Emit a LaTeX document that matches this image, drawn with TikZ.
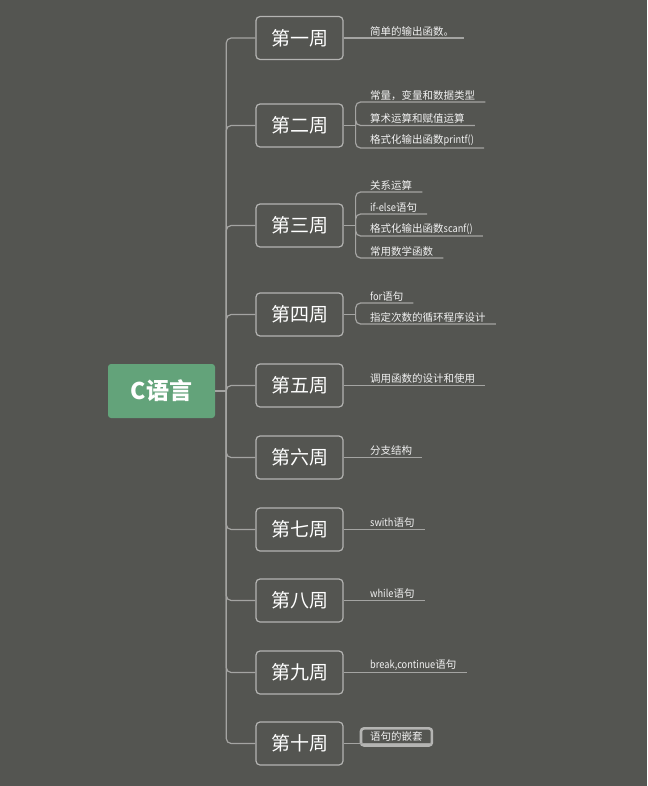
\documentclass[tikz,border=0pt]{standalone}
\usepackage{fontspec}
\setmainfont{Noto Sans CJK SC}
\newfontfamily\lat[FakeStretch=0.88]{Noto Sans CJK SC}
\usetikzlibrary{fit}
\definecolor{bgcol}{HTML}{545551}
\definecolor{rootcol}{HTML}{63A37A}
\definecolor{boxcol}{HTML}{B4B4B2}
\definecolor{linecol}{HTML}{A4A4A2}
\definecolor{leafcol}{HTML}{F2F2F2}

\begin{document}
\begin{tikzpicture}[x=1pt, y=-1pt,
link/.style ={draw=linecol, line width=1.2pt, rounded corners=5pt},
root/.style ={fill=rootcol, rounded corners=3pt, minimum width=107pt,
  minimum height=54pt, text=white, font=\fontsize{23}{23}\selectfont\bfseries},
week/.style ={draw=boxcol, fill=bgcol, rounded corners=4pt, line width=1.2pt,
  minimum width=87pt, minimum height=43pt, inner sep=0pt, text=white,
  font=\fontsize{19}{19}\selectfont},
leaf/.style ={anchor=south west, inner xsep=10pt, inner ysep=1.5pt,
  text=leafcol, font=\fontsize{10.5}{12}\selectfont},
selbox/.style ={draw=boxcol, line width=2.6pt, rounded corners=3pt,
  inner xsep=1pt, inner ysep=2pt}]
\fill[bgcol] (0,0) rectangle (647,786);
\useasboundingbox (0,0) rectangle (647,786);
% root and weeks
\node[root] (C) at (161.5,391) {C语言};
\node[week] (W1) at (299.5,38) {第一周};
\node[week] (W2) at (299.5,125.5) {第二周};
\node[week] (W3) at (299.5,225.5) {第三周};
\node[week] (W4) at (299.5,314.5) {第四周};
\node[week] (W5) at (299.5,385.5) {第五周};
\node[week] (W6) at (299.5,457.5) {第六周};
\node[week] (W7) at (299.5,529.5) {第七周};
\node[week] (W8) at (299.5,600.5) {第八周};
\node[week] (W9) at (299.5,672.5) {第九周};
\node[week] (W10) at (299.5,743.5) {第十周};
% leaves
\node[leaf] (L11) at (360,38) {简单的输出函数。};
\node[leaf] (L21) at (360,102) {常量，变量和数据类型};
\node[leaf] (L22) at (360,125.5) {算术运算和赋值运算};
\node[leaf] (L23) at (360,148) {格式化输出函数{\lat printf()}};
\node[leaf] (L31) at (360,192) {关系运算};
\node[leaf] (L32) at (360,214) {{\lat if-else}语句};
\node[leaf] (L33) at (360,236) {格式化输出函数{\lat scanf()}};
\node[leaf] (L34) at (360,258) {常用数学函数};
\node[leaf] (L41) at (360,303) {{\lat for}语句};
\node[leaf] (L42) at (360,324) {指定次数的循环程序设计};
\node[leaf] (L51) at (360,385.5) {调用函数的设计和使用};
\node[leaf] (L61) at (360,457.5) {分支结构};
\node[leaf] (L71) at (360,529.5) {{\lat swith}语句};
\node[leaf] (L81) at (360,600.5) {{\lat while}语句};
\node[leaf] (L91) at (360,672.5) {{\lat break,continue}语句};
\node[leaf, inner xsep=8pt] (L101) at (362,743.5) {语句的嵌套};
\node[selbox, fit=(L101)] (S) {};
% trunk
\draw[link] (C.east) -- ++(11,0);
\foreach \w in {W1,W2,W3,W4,W5,W6,W7,W8,W9,W10}
  \draw[link] (C.east) ++(11,0) |- (\w.west);
% week to leaf
\draw[link] (W1.east) -- (L11.south east);
\draw[link] (W2.east) -- ++(12,0);
\draw[link] (W2.east) ++(12,0) |- (L21.south east);
\draw[link] (W2.east) ++(12,0) |- (L22.south east);
\draw[link] (W2.east) ++(12,0) |- (L23.south east);
\draw[link] (W3.east) -- ++(12,0);
\draw[link] (W3.east) ++(12,0) |- (L31.south east);
\draw[link] (W3.east) ++(12,0) |- (L32.south east);
\draw[link] (W3.east) ++(12,0) |- (L33.south east);
\draw[link] (W3.east) ++(12,0) |- (L34.south east);
\draw[link] (W4.east) -- ++(12,0);
\draw[link] (W4.east) ++(12,0) |- (L41.south east);
\draw[link] (W4.east) ++(12,0) |- (L42.south east);
\draw[link] (W5.east) -- (L51.south east);
\draw[link] (W6.east) -- (L61.south east);
\draw[link] (W7.east) -- (L71.south east);
\draw[link] (W8.east) -- (L81.south east);
\draw[link] (W9.east) -- (L91.south east);
\draw[link] (W10.east) -- (L101.south east);
\end{tikzpicture}
\end{document}
